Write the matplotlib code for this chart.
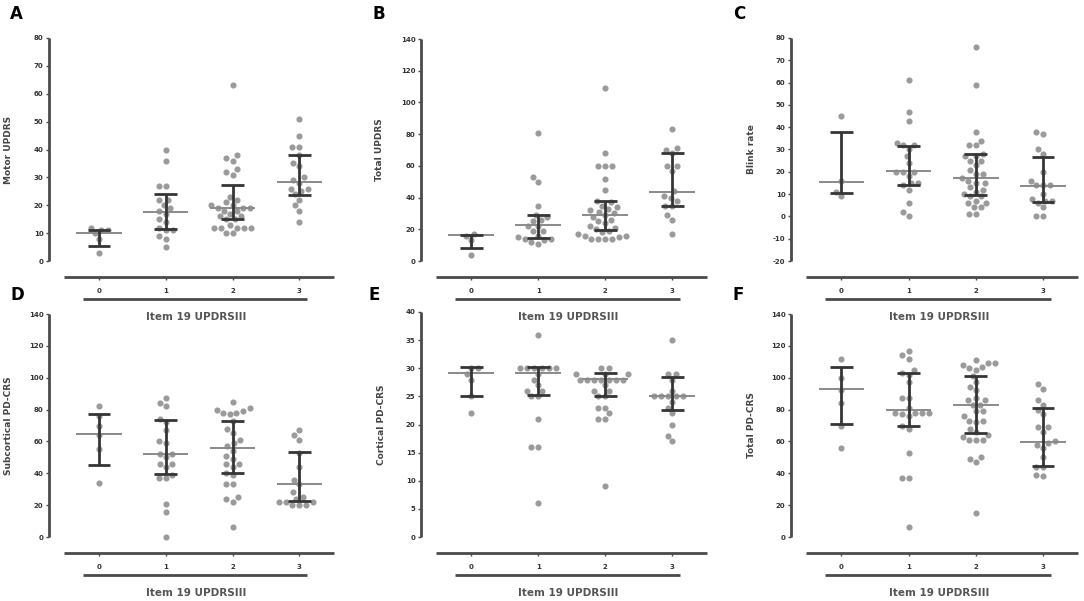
import numpy as np
import matplotlib
matplotlib.use("Agg")
import matplotlib.pyplot as plt
from matplotlib.transforms import blended_transform_factory

plt.rcParams["axes.unicode_minus"] = False

W, H, DPI = 1084, 601, 100

categories = ["0", "1", "2", "3"]
x_title = "Item 19 UPDRSIII"

# ---------------- Panel A: Motor UPDRS ----------------
motor_updrs = [
    [3, 8, 10, 11, 11, 12],
    [40, 36, 27, 27, 22, 22, 20, 19, 18, 17, 15, 14, 12, 11, 11, 9, 8, 5],
    [63, 38, 37, 36, 33, 32, 31, 23, 22, 21, 20, 20, 19, 19, 19, 18, 18, 17,
     16, 16, 15, 15, 13, 12, 12, 12, 12, 12, 10, 10],
    [51, 45, 41, 41, 38, 35, 34, 30, 29, 28, 26, 26, 25, 24, 22, 20, 18, 14],
]
motor_median = [10, 17.4, 19.1, 28.4]
motor_q1 = [5.4, 11.5, 15.2, 23.6]
motor_q3 = [11, 23.9, 27.2, 38.2]

# ---------------- Panel B: Total UPDRS ----------------
total_updrs = [
    [4, 13, 16, 17],
    [81, 53, 50, 35, 29, 28, 26, 25, 22, 22, 19, 19, 16, 15, 14, 14, 13, 12, 11],
    [109, 68, 60, 60, 60, 52, 45, 38, 37, 35, 34, 33, 32, 31, 30, 29, 28, 26,
     25, 24, 22, 21, 20, 19, 18, 17, 16, 16, 15, 14, 14, 14, 14],
    [83, 71, 70, 68, 60, 60, 57, 44, 41, 40, 38, 35, 35, 29, 26, 17],
]
total_updrs_median = [16.2, 22.9, 28.8, 43.6]
total_updrs_q1 = [8.4, 14.7, 19.4, 34.7]
total_updrs_q3 = [16.6, 29.3, 37.7, 67.8]

# ---------------- Panel C: Blink rate ----------------
blink_rate = [
    [45, 16, 11, 9],
    [61, 47, 43, 33, 32, 32, 30, 27, 24, 20, 20, 20, 18, 15, 15, 14, 12, 6, 2, 0],
    [76, 59, 38, 34, 32, 32, 28, 27, 27, 25, 25, 23, 21, 19, 19, 17, 16, 15,
     15, 13, 12, 11, 10, 9, 9, 7, 6, 6, 4, 4, 1, 1],
    [38, 37, 30, 28, 20, 16, 14, 14, 14, 10, 8, 7, 7, 6, 4, 0, 0],
]
blink_median = [15.5, 20.3, 17.0, 13.7]
blink_q1 = [10.7, 14.3, 9.8, 6.5]
blink_q3 = [37.7, 31.7, 27.8, 26.8]

# ---------------- Panel D: Subcortical PD-CRS ----------------
subcortical_pdcrs = [
    [82, 76, 70, 64, 55, 34],
    [87, 84, 82, 74, 72, 67, 60, 59, 52, 52, 50, 46, 46, 44, 39, 37, 37, 21, 16, 0],
    [85, 81, 80, 79, 78, 78, 77, 73, 68, 65, 61, 59, 57, 54, 51, 49, 46, 46,
     44, 40, 39, 33, 33, 25, 24, 22, 6],
    [67, 64, 61, 53, 44, 36, 33, 28, 25, 24, 22, 22, 22, 20, 20, 20],
]
subcortical_median = [64.5, 51.8, 56.0, 33.5]
subcortical_q1 = [45.3, 39.4, 40.0, 22.4]
subcortical_q3 = [77.0, 73.4, 73.0, 53.5]

# ---------------- Panel E: Cortical PD-CRS ----------------
cortical_pdcrs = [
    [30, 30, 29, 28, 25, 22],
    [36, 30, 30, 30, 30, 30, 30, 29, 28, 27, 26, 26, 25, 25, 21, 16, 16, 6],
    [30, 30, 29, 29, 29, 28, 28, 28, 28, 28, 28, 28, 27, 26, 26, 25, 25, 23,
     23, 22, 21, 21, 9],
    [35, 29, 29, 28, 26, 25, 25, 25, 25, 25, 24, 23, 22, 20, 18, 17],
]
cortical_median = [29.2, 29.2, 28.1, 25.0]
cortical_q1 = [25.0, 25.3, 25.0, 22.6]
cortical_q3 = [30.2, 30.2, 29.2, 28.5]

# ---------------- Panel F: Total PD-CRS ----------------
total_pdcrs = [
    [112, 100, 92, 84, 70, 56],
    [117, 114, 112, 105, 103, 102, 97, 87, 87, 81, 78, 78, 78, 78, 77, 76, 70,
     68, 53, 37, 37, 6],
    [111, 109, 109, 108, 107, 106, 105, 101, 97, 94, 92, 87, 86, 86, 83, 83,
     79, 79, 76, 73, 73, 72, 68, 66, 64, 63, 61, 61, 61, 50, 49, 47, 15],
    [96, 93, 86, 83, 80, 77, 69, 69, 66, 60, 59, 58, 56, 50, 44, 44, 39, 38],
]
total_pdcrs_median = [92.7, 79.7, 82.7, 59.9]
total_pdcrs_q1 = [71.0, 69.7, 65.6, 44.8]
total_pdcrs_q3 = [106.9, 103.0, 101.0, 80.8]

panels = [
    dict(letter="A", ylabel="Motor UPDRS", data=motor_updrs, med=motor_median,
         q1=motor_q1, q3=motor_q3, ylim=(0, 80), step=10,
         left=49, width=285, top=38, zero=261, line=277, letter_xy=(10, 14), ylab_x=9),
    dict(letter="B", ylabel="Total UPDRS", data=total_updrs, med=total_updrs_median,
         q1=total_updrs_q1, q3=total_updrs_q3, ylim=(0, 140), step=20,
         left=421, width=286, top=39, zero=261, line=277, letter_xy=(372, 14), ylab_x=380),
    dict(letter="C", ylabel="Blink rate", data=blink_rate, med=blink_median,
         q1=blink_q1, q3=blink_q3, ylim=(-20, 80), step=10,
         left=791, width=287, top=38, zero=261, line=277, letter_xy=(733, 14), ylab_x=751),
    dict(letter="D", ylabel="Subcortical PD-CRS", data=subcortical_pdcrs, med=subcortical_median,
         q1=subcortical_q1, q3=subcortical_q3, ylim=(0, 140), step=20,
         left=49, width=285, top=314, zero=537, line=553, letter_xy=(10, 295), ylab_x=9),
    dict(letter="E", ylabel="Cortical PD-CRS", data=cortical_pdcrs, med=cortical_median,
         q1=cortical_q1, q3=cortical_q3, ylim=(0, 40), step=5,
         left=421, width=286, top=312, zero=537, line=553, letter_xy=(368, 295), ylab_x=381),
    dict(letter="F", ylabel="Total PD-CRS", data=total_pdcrs, med=total_pdcrs_median,
         q1=total_pdcrs_q1, q3=total_pdcrs_q3, ylim=(0, 140), step=20,
         left=791, width=287, top=314, zero=537, line=553, letter_xy=(733, 295), ylab_x=751),
]

AX_COL = "#4a4a4a"
PT_COL = "#9a9a9a"
ERR_COL = "#353535"
MED_COL = "#8a8a8a"
XLO, XHI = -0.75, 3.52


def swarm_offsets(ypix, d):
    """Beeswarm horizontal offsets (pixels) for points at vertical pixel ypix."""
    order = np.argsort(ypix)
    placed = []
    offs = np.zeros(len(ypix))
    for i in order:
        y = ypix[i]
        cands = [0.0]
        for xo, yo in placed:
            dy = abs(y - yo)
            if dy < d:
                dx = np.sqrt(d * d - dy * dy)
                cands += [xo + dx, xo - dx]
        cands.sort(key=lambda c: (abs(c), c))
        for c in cands:
            if all((c - xo) ** 2 + (y - yo) ** 2 >= d * d - 1e-6 for xo, yo in placed):
                offs[i] = c
                placed.append((c, y))
                break
    return offs


fig = plt.figure(figsize=(W / DPI, H / DPI), dpi=DPI)
fig.patch.set_facecolor("white")

for p in panels:
    ymin, ymax = p["ylim"]
    top, zero, line = p["top"], p["zero"], p["line"]
    ah = line - top
    scale = (zero - top) / (ymax - ymin)
    ybot = ymin - (line - zero) / scale
    ax = fig.add_axes([p["left"] / W, 1 - line / H, p["width"] / W, ah / H])
    ax.set_xlim(XLO, XHI)
    ax.set_ylim(ybot, ymax)
    ax.set_facecolor("none")
    xpx = p["width"] / (XHI - XLO)

    for spine in ["top", "right"]:
        ax.spines[spine].set_visible(False)
    ax.spines["left"].set_bounds(ymin, ymax)
    ax.spines["bottom"].set_bounds(-0.52, 3.52)
    for s in ["left", "bottom"]:
        ax.spines[s].set_linewidth(2.0)
        ax.spines[s].set_color(AX_COL)
        ax.spines[s].set_capstyle("butt")

    ax.set_yticks(np.arange(ymin, ymax + 0.01, p["step"]))
    ax.set_xticks(range(len(categories)))
    ax.set_xticklabels(categories)
    ax.tick_params(axis="y", length=2.5, width=1, color=AX_COL, pad=1.5,
                   labelsize=5, labelcolor="#333333")
    ax.tick_params(axis="x", length=2.5, width=1, color=AX_COL, pad=5.5,
                   labelsize=5, labelcolor="#333333")
    for lab in ax.get_xticklabels() + ax.get_yticklabels():
        lab.set_fontweight("bold")

    for i, vals in enumerate(p["data"]):
        vals = np.asarray(vals, dtype=float)
        ypix = vals * scale
        offs = swarm_offsets(ypix, 7.0) / xpx
        ax.plot(i + offs, vals, "o", ms=3.4, color=PT_COL, mec=PT_COL, zorder=2,
                clip_on=False)
        # median line
        ax.plot([i - 0.34, i + 0.34], [p["med"][i]] * 2, color=MED_COL, lw=1.4,
                zorder=3, solid_capstyle="butt")
        # interquartile range error bar
        ax.plot([i, i], [p["q1"][i], p["q3"][i]], color=ERR_COL, lw=2.0, zorder=4,
                solid_capstyle="butt")
        for q in (p["q1"][i], p["q3"][i]):
            ax.plot([i - 0.17, i + 0.17], [q, q], color=ERR_COL, lw=2.0, zorder=4,
                    solid_capstyle="butt")

    tr = blended_transform_factory(ax.transData, ax.transAxes)
    ax.plot([-0.24, 3.12], [-22 / ah] * 2, color=AX_COL, lw=2.0, transform=tr,
            clip_on=False, solid_capstyle="butt")
    ax.text(1.45, -40 / ah, x_title, transform=tr, ha="center", va="center",
            fontsize=7.5, fontweight="bold", color="#555555")

    ycen = (top + zero) / 2
    fig.text(p["ylab_x"] / W, 1 - ycen / H, p["ylabel"], rotation=90,
             ha="center", va="center", fontsize=6.5, fontweight="bold", color="#444444")
    lx, ly = p["letter_xy"]
    fig.text(lx / W, 1 - ly / H, p["letter"], ha="left", va="center",
             fontsize=12, fontweight="bold", color="black")

fig.savefig("out.png", dpi=DPI, facecolor="white")
